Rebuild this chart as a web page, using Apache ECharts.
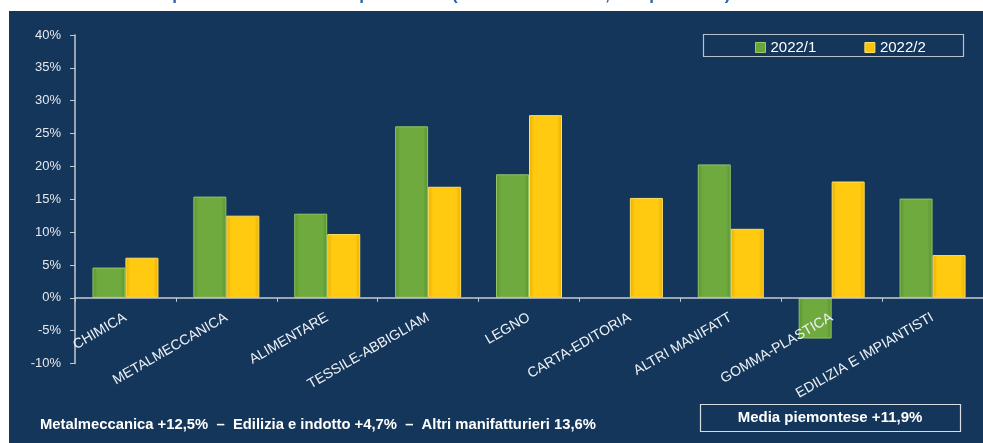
<!DOCTYPE html>
<html><head><meta charset="utf-8">
<script src="https://cdn.jsdelivr.net/npm/echarts@6/dist/echarts.min.js"></script>
<style>
html,body{margin:0;padding:0;background:#fff;}
#panel{position:absolute;left:9px;top:11px;width:974px;height:432px;background:#14365b;}
#chart{position:absolute;left:0;top:0;width:983px;height:443px;}
</style></head>
<body>
<div id="panel"></div>
<div id="chart"></div>
<script>
var categories = ['CHIMICA','METALMECCANICA','ALIMENTARE','TESSILE-ABBIGLIAM','LEGNO','CARTA-EDITORIA','ALTRI MANIFATT','GOMMA-PLASTICA','EDILIZIA E IMPIANTISTI'];
var series1Name = '2022/1';
var series2Name = '2022/2';
var series1 = [4.6, 15.4, 12.8, 26.1, 18.8, null, 20.3, -6.2, 15.1];
var series2 = [6.1, 12.5, 9.7, 16.9, 27.8, 15.2, 10.5, 17.7, 6.5];
var yTicks = {min: -10, max: 40, interval: 5};
var titleText = 'Variazione della produzione industriale per settore (secondo trimestre, dati piemonte)';
var footText = 'Metalmeccanica +12,5%  \u2013  Edilizia e indotto +4,7%  \u2013  Altri manifatturieri 13,6%';
var mediaText = 'Media piemontese +11,9%';

var chart = echarts.init(document.getElementById('chart'), null, {renderer:'canvas'});

function grad(edge, mid){
  return new echarts.graphic.LinearGradient(0,0,1,0,[
    {offset:0,color:edge},{offset:0.15,color:mid},{offset:0.85,color:mid},{offset:1,color:edge}
  ]);
}

chart.setOption({
  backgroundColor:'transparent',
  animation:false,
  grid:{left:75, right:0, top:35, bottom:79.5, containLabel:false, outerBoundsMode:'none'},
  legend:{
    left:750, top:35, itemWidth:10, itemHeight:10, itemGap:48,
    textStyle:{color:'#ffffff', fontSize:15, fontFamily:'Liberation Sans'},
    data:[
      {name:series1Name, icon:'rect', itemStyle:{color:'#6aa53a', borderColor:'#9ccc6a', borderWidth:1}},
      {name:series2Name, icon:'rect', itemStyle:{color:'#fcc30c', borderColor:'#ffe36a', borderWidth:1}}
    ]
  },
  graphic:[
    {type:'text', x:40, y:-5, style:{text:titleText, fill:'#2a62aa', font:'bold 17px "Liberation Sans"', align:'left', verticalAlign:'middle'}},
    {type:'rect', shape:{x:703.5, y:34.5, width:260, height:22}, style:{fill:'none', stroke:'#b8c0cc', lineWidth:1.2}, z:5},
    {type:'rect', shape:{x:700.5, y:404.5, width:260, height:27}, style:{fill:'none', stroke:'#d8dde4', lineWidth:1.2}, z:5},
    {type:'text', x:830, y:418, style:{text:mediaText, fill:'#ffffff', font:'bold 15px "Liberation Sans"', align:'center', verticalAlign:'middle'}, z:5},
    {type:'text', x:40, y:425, style:{text:footText, fill:'#ffffff', font:'bold 14.8px "Liberation Sans"', align:'left', verticalAlign:'middle'}, z:5}
  ],
  xAxis:{
    type:'category', data:categories, z:10,
    axisLine:{onZero:true, lineStyle:{color:'#c4cad3', width:1.5}},
    axisTick:{show:true, length:4, inside:false, lineStyle:{color:'#c4cad3'}},
    axisLabel:{interval:0, rotate:30, color:'#eef1f5', fontSize:14, fontFamily:'Liberation Sans', margin:-47},
    splitLine:{show:false}
  },
  yAxis:{
    type:'value', min:yTicks.min, max:yTicks.max, interval:yTicks.interval,
    axisLine:{show:true, lineStyle:{color:'#c4cad3', width:1.5}},
    axisTick:{show:true, length:5, lineStyle:{color:'#c4cad3'}},
    axisLabel:{color:'#e6e9ee', fontSize:13, fontFamily:'Liberation Sans', margin:14, formatter:'{value}%'},
    splitLine:{show:false}
  },
  series:[
    {name:series1Name, type:'bar', data:series1, barWidth:33, barGap:'0%',
      itemStyle:{color:grad('#5a9330','#6eaa3e'), borderColor:'#94c465', borderWidth:1}},
    {name:series2Name, type:'bar', data:series2, barWidth:33, barGap:'0%',
      itemStyle:{color:grad('#e8b000','#ffca10'), borderColor:'#ffe060', borderWidth:1}}
  ]
});
</script>
</body></html>
